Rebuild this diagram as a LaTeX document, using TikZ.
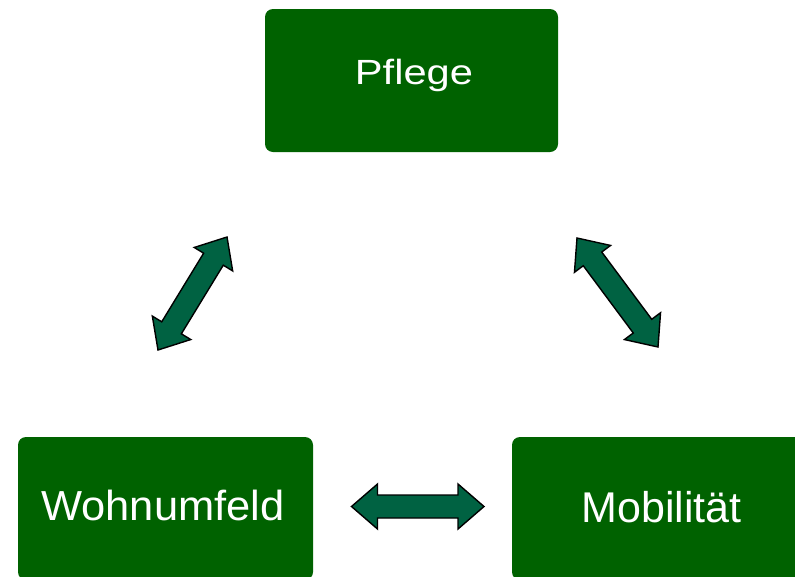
\documentclass[tikz,border=0pt]{standalone}
\usepackage{fontspec}
\setmainfont{Liberation Sans}
\usepackage{graphicx}
\usetikzlibrary{calc}
\definecolor{boxgreen}{RGB}{0,98,0}
\definecolor{arrowgreen}{RGB}{0,98,66}
\tikzset{
  box/.style={rectangle, rounded corners=8pt, fill=boxgreen, draw=none,
    minimum width=295pt, minimum height=143pt, inner sep=0pt},
  lbl/.style={text=white, inner sep=0pt, anchor=base},
  fatarrow/.style={fill=arrowgreen, draw=black, line width=1.4pt, line join=miter}
}
\newcommand\fatdarrow[2]{%
  \coordinate (#1h) at ($(#1)!26pt!(#2)$);
  \coordinate (#2h) at ($(#2)!26pt!(#1)$);
  \draw[fatarrow] (#1) -- ($(#1h)!22.5pt!90:(#2)$) -- ($(#1h)!11.5pt!90:(#2)$)
    -- ($(#2h)!11.5pt!-90:(#1)$) -- ($(#2h)!22.5pt!-90:(#1)$) -- (#2)
    -- ($(#2h)!22.5pt!90:(#1)$) -- ($(#2h)!11.5pt!90:(#1)$)
    -- ($(#1h)!11.5pt!-90:(#2)$) -- ($(#1h)!22.5pt!-90:(#2)$) -- cycle;
}
\begin{document}
\begin{tikzpicture}[x=1pt,y=-1pt]
\useasboundingbox (0,0) rectangle (795,576);
\fill[white] (0,0) rectangle (795,576);
\clip (0,0) rectangle (795,576);
% boxes
\node[box, minimum width=293pt] (pflegebox) at (411.5,80.5) {};
\node[box] (wohnbox) at (165.5,508.5) {};
\node[box] (mobbox) at (659.5,508.5) {};
% labels
\node[lbl] (pflege) at (414,84) {\fontsize{35}{40}\selectfont\scalebox{1.19}[1]{Pflege}};
\node[lbl] (wohn) at (163,520) {\fontsize{42}{48}\selectfont\scalebox{1.035}[1]{Wohnumfeld}};
\node[lbl] (mob) at (661.5,522) {\fontsize{43}{48}\selectfont Mobilität};
% arrow end points
\coordinate (la) at (158,350);
\coordinate (lb) at (227,237);
\coordinate (ra) at (577,238);
\coordinate (rb) at (658,347);
\coordinate (ha) at (351.5,506.5);
\coordinate (hb) at (484,506.5);
\fatdarrow{la}{lb}
\fatdarrow{ra}{rb}
\fatdarrow{ha}{hb}
\end{tikzpicture}
\end{document}
